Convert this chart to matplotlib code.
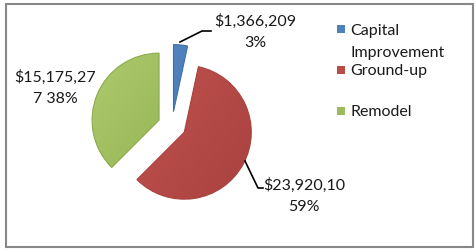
import matplotlib
matplotlib.use("Agg")
import numpy as np
import matplotlib.pyplot as plt
from matplotlib.patches import Rectangle
from matplotlib.colors import to_rgb

# ---- data ----
categories = ["Capital\nImprovement", "Ground-up", "Remodel"]
values = [1366209, 23920100, 15175277]
label_texts = ["$1,366,209\n3%", "$23,920,10\n59%", "$15,175,27\n7 38%"]
colors = ["#4F81BD", "#BA4B48", "#9DBB5C"]
light_colors = ["#5A8CC8", "#C25350", "#ADCB6E"]
dark_colors = ["#3F6FA8", "#A9423F", "#8CAB4B"]

plt.rcParams['font.family'] = ['Lato', 'DejaVu Sans']

W, H = 476, 253
fig = plt.figure(figsize=(W / 100, H / 100), dpi=100)
ax = fig.add_axes([0, 0, 1, 1])

R = 67
center = (172, 253 - 126.5)
wedges, _ = ax.pie(values, colors=colors, startangle=90, counterclock=False,
                   explode=[14, 14, 14], radius=R, center=center,
                   wedgeprops=dict(linewidth=0.8))

# subtle gradient shading clipped to each wedge
for w, lc, dc in zip(wedges, light_colors, dark_colors):
    w.set_edgecolor(dc)
    cx, cy = w.center
    x0, x1, y0, y1 = cx - R, cx + R, cy - R, cy + R
    n = 64
    gx, gy = np.meshgrid(np.linspace(0, 1, n), np.linspace(0, 1, n))
    t = np.clip(0.6 * gx + 0.4 * (1 - gy), 0, 1)[..., None]
    img = (1 - t) * np.array(to_rgb(lc)) + t * np.array(to_rgb(dc))
    im = ax.imshow(img, extent=[x0, x1, y1, y0], origin='upper',
                   interpolation='bilinear', zorder=w.get_zorder() + 0.1)
    im.set_clip_path(w)
    w.set_zorder(w.get_zorder() + 0.2)
    w.set_facecolor('none')
ax.set_xlim(0, W)
ax.set_ylim(0, H)
ax.set_aspect('auto')
ax.axis('off')

fs = 11.5
tc = '#1a1a1a'
ls = 1.6
# data labels with leader lines
ax.text(255, 221, label_texts[0], ha='center', va='center', fontsize=fs,
        linespacing=ls, color=tc)
ax.plot([180, 202, 211], [210, 221, 221], color='black', lw=1.2)

ax.text(304, 57, label_texts[1], ha='center', va='center', fontsize=fs,
        linespacing=ls, color=tc)
ax.plot([245, 258, 263], [91, 64, 64], color='black', lw=1.2)

ax.text(55.5, 165, label_texts[2], ha='center', va='center', fontsize=fs,
        linespacing=ls, color=tc)

# legend
leg_y = [253 - 30, 253 - 71, 253 - 112]
for cat, col, y in zip(categories, colors, leg_y):
    ax.add_patch(Rectangle((337, y - 4), 8, 8, facecolor=col, edgecolor='none'))
    if '\n' in cat:
        ax.text(350, y + 6, cat, ha='left', va='top', fontsize=fs,
                linespacing=1.7, color=tc)
    else:
        ax.text(350, y, cat, ha='left', va='center', fontsize=fs, color=tc)

# outer border
fig.patches.append(Rectangle((6 / W, 5 / H), (473 - 6) / W, (248 - 5) / H,
                             transform=fig.transFigure, fill=False,
                             edgecolor='#878787', lw=1.5))

fig.savefig("out.png", dpi=100)
